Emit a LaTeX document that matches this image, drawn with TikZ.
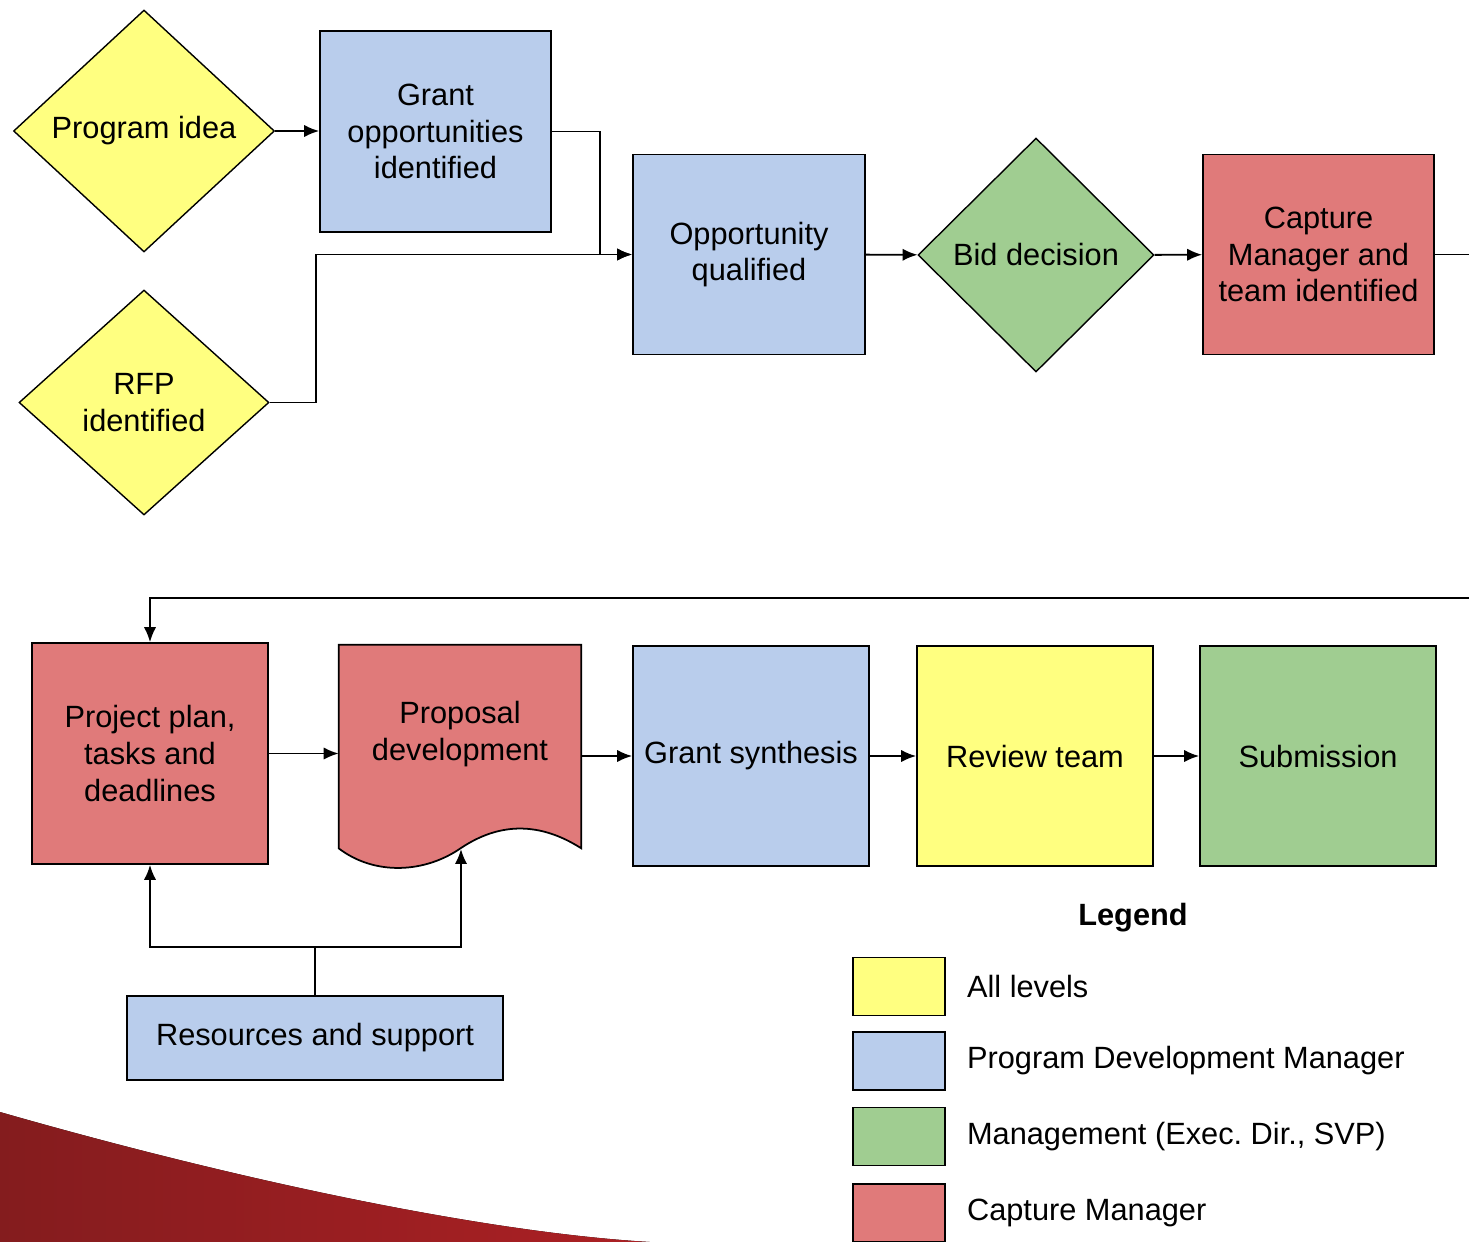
\documentclass[tikz,border=0pt]{standalone}
\usepackage{fontspec}
\setmainfont{Liberation Sans}
\usepackage{xcolor}
\usepackage{tikz}
\usetikzlibrary{shapes,arrows,arrows.meta,positioning}

\definecolor{allyellow}{RGB}{255,255,128}
\definecolor{pdmblue}{RGB}{185,205,236}
\definecolor{mgmtgreen}{RGB}{160,205,145}
\definecolor{capred}{RGB}{224,122,122}
\definecolor{swooshdark}{RGB}{132,28,30}
\definecolor{swooshlight}{RGB}{172,32,36}

\begin{document}
\begin{tikzpicture}[x=0.02cm, y=-0.02cm, >={Latex[length=8.5pt,width=7pt]},
		every node/.style={font=\fontsize{17.5}{21}\selectfont},
		stepbox/.style={rectangle, draw, line width=1pt, align=center, inner sep=2pt},
		choice/.style={diamond, draw, line width=0.8pt, align=center, inner sep=0pt, fill=allyellow},
		flow/.style={->, line width=1.1pt},
		swatch/.style={rectangle, draw, line width=1pt, minimum width=1.84cm, minimum height=1.16cm}]
				\useasboundingbox (0,0) rectangle (1469,1241);
				\fill[left color=swooshdark, right color=swooshlight] (0,1112) .. controls (230,1178) and (480,1232) .. (650,1242) -- (0,1242) -- cycle;
				
				\node[choice, minimum width=5.22cm, minimum height=4.84cm] (idea) at (144,131) {Program idea};
				\node[stepbox, fill=pdmblue, minimum width=4.62cm, minimum height=4.02cm] (grant) at (435.5,131.5) {Grant\\opportunities\\identified};
				\node[choice, minimum width=5cm, minimum height=4.5cm] (rfp) at (144,402.5) {RFP\\identified};
				\node[stepbox, fill=pdmblue, minimum width=4.64cm, minimum height=4cm] (qual) at (749,254.5) {Opportunity\\qualified};
				\node[choice, fill=mgmtgreen, minimum width=4.72cm, minimum height=4.68cm] (bid) at (1036,255) {Bid decision};
				\node[stepbox, fill=capred, minimum width=4.62cm, minimum height=4cm] (capt) at (1318.5,254.5) {Capture\\Manager and\\team identified};
				\coordinate (rightout) at (1469,254.5);
				\coordinate (rightback) at (1469,598);
				
				\draw[flow] (idea.east) -- (idea.east -| grant.west);
				\draw[flow] (grant.east) -- ++(48,0) |- (qual.west);
				\draw[flow] (rfp.east) -- ++(46,0) |- (qual.west);
				\draw[flow] (qual) -- (bid);
				\draw[flow] (bid) -- (capt);
				\draw[line width=1.1pt] (capt.east) -- (rightout);
				
				\node[stepbox, fill=capred, minimum width=4.72cm, minimum height=4.42cm] (plan) at (150,753.5) {Project plan,\\tasks and\\deadlines};
				\node[rectangle, minimum width=4.84cm, minimum height=4.06cm, inner sep=0pt] (prop) at (460,746.5) {};
				\draw[fill=capred, line width=1pt] (prop.north west) -- (prop.north east) -- (prop.south east) .. controls (540,822) and (500,822) .. (461,848) .. controls (425,873) and (375,876) .. (prop.south west) -- cycle;
				\node[align=center] (proptext) at (460,734) {Proposal\\development};
				\coordinate (wavein) at (461,849);
				\node[stepbox, fill=pdmblue, minimum width=4.72cm, minimum height=4.4cm] (synth) at (751,756) {Grant synthesis};
				\node[stepbox, fill=allyellow, minimum width=4.72cm, minimum height=4.4cm] (review) at (1035,756) {Review team};
				\node[stepbox, fill=mgmtgreen, minimum width=4.72cm, minimum height=4.4cm] (submit) at (1318,756) {Submission};
				\node[stepbox, fill=pdmblue, minimum width=7.52cm, minimum height=1.68cm] (res) at (315,1038) {Resources and support};
				
				\draw[flow] (rightback) -| (plan.north);
				\draw[flow] (plan.east) -- (plan.east -| prop.west);
				\draw[flow] (synth.west -| prop.east) -- (synth.west);
				\draw[flow] (synth) -- (review);
				\draw[flow] (review) -- (submit);
				\draw[line width=1.1pt] (res.north) -- ++(0,-48) coordinate (split);
				\draw[flow] (split) -| (plan.south);
				\draw[flow] (split) -| (wavein);
				
				\node[font=\fontsize{17.5}{21}\selectfont\bfseries] (legtitle) at (1133,918) {Legend};
				\node[swatch, fill=allyellow] (swall) at (899,986.5) {};
				\node[swatch, fill=pdmblue] (swpdm) at (899,1061) {};
				\node[swatch, fill=mgmtgreen] (swmgmt) at (899,1136.5) {};
				\node[swatch, fill=capred] (swcap) at (899,1213) {};
				\node[right=0.3cm of swall] (laball) {All levels};
				\node[right=0.3cm of swpdm] (labpdm) {Program Development Manager};
				\node[right=0.3cm of swmgmt] (labmgmt) {Management (Exec.\ Dir., SVP)};
				\node[right=0.3cm of swcap] (labcap) {Capture Manager};
			\end{tikzpicture}
\end{document}
